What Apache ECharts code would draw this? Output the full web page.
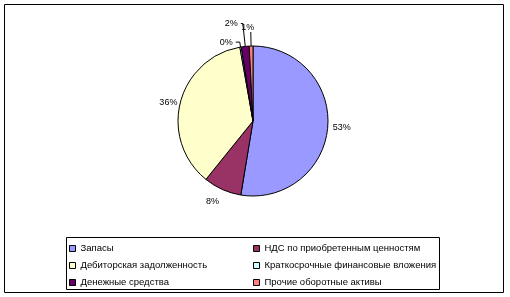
<!DOCTYPE html>
<html>
<head>
<meta charset="utf-8">
<script src="https://cdn.jsdelivr.net/npm/echarts@6/dist/echarts.min.js"></script>
<style>
html,body{margin:0;padding:0;background:#fff;}
#chart{width:510px;height:297px;}
</style>
</head>
<body>
<div id="chart"></div>
<script>
// ---- data ----
const categories = [
  'Запасы',
  'НДС по приобретенным ценностям',
  'Дебиторская задолженность',
  'Краткосрочные финансовые вложения',
  'Денежные средства',
  'Прочие оборотные активы'
];
const values = [52.6, 8.2, 36.4, 0.3, 1.7, 0.8];
const colors = ['#9999FF', '#993366', '#FFFFCC', '#CCFFFF', '#660066', '#FF8080'];
const legendCol1 = [categories[0], categories[2], categories[4]];
const legendCol2 = [categories[1], categories[3], categories[5]];

// ---- per-slice label placement styles ----
const labelStyles = [
  { line: false, length: 1, length2: 0, dist: 4 },
  { line: false, length: 13, length2: 0, dist: -2 },
  { line: false, length: 1, length2: 0, dist: 2 },
  { line: true, length: 5, length2: 4, dist: 3 },
  { line: true, length: 23, length2: 2, dist: 3 },
  { line: true, length: 14, length2: 0, dist: 0 }
];

const chart = echarts.init(document.getElementById('chart'), null, { renderer: 'canvas' });

const pieData = categories.map((name, i) => ({
  name: name,
  value: values[i],
  itemStyle: { color: colors[i] },
  label: { distanceToLabelLine: labelStyles[i].dist },
  labelLine: {
    show: labelStyles[i].line,
    length: labelStyles[i].length,
    length2: labelStyles[i].length2
  }
}));

const legendCommon = {
  orient: 'vertical',
  icon: 'rect',
  itemWidth: 6,
  itemHeight: 6,
  itemGap: 6,
  padding: 0,
  selectedMode: false,
  itemStyle: { borderColor: '#000', borderWidth: 1 },
  textStyle: { fontFamily: 'Liberation Sans', fontSize: 9.5, color: '#000', lineHeight: 11 }
};

chart.setOption({
  animation: false,
  backgroundColor: '#fff',
  graphic: [
    { type: 'rect', shape: { x: 4.5, y: 4.5, width: 499, height: 288 },
      style: { fill: 'none', stroke: '#000', lineWidth: 1 }, silent: true },
    { type: 'rect', shape: { x: 66.5, y: 237.5, width: 373, height: 52 },
      style: { fill: 'none', stroke: '#000', lineWidth: 1 }, silent: true }
  ],
  legend: [
    Object.assign({}, legendCommon, { data: legendCol1, left: 69, top: 243 }),
    Object.assign({}, legendCommon, { data: legendCol2, left: 253, top: 243 })
  ],
  series: [{
    type: 'pie',
    center: [253, 121],
    radius: 75,
    startAngle: 90,
    clockwise: true,
    avoidLabelOverlap: false,
    data: pieData,
    itemStyle: { borderColor: '#000', borderWidth: 1 },
    label: {
      show: true,
      position: 'outside',
      fontFamily: 'Liberation Sans',
      fontSize: 9,
      color: '#000',
      formatter: p => Math.round(p.percent) + '%'
    },
    labelLine: {
      lineStyle: { color: '#000', width: 1 },
      minTurnAngle: 0,
      maxSurfaceAngle: 180
    },
    labelLayout: function (params) {
      if (params.dataIndex === 5) {
        return { align: 'center', dx: -3, dy: -5 };
      }
      return {};
    },
    emphasis: { disabled: true }
  }]
});
</script>
</body>
</html>
